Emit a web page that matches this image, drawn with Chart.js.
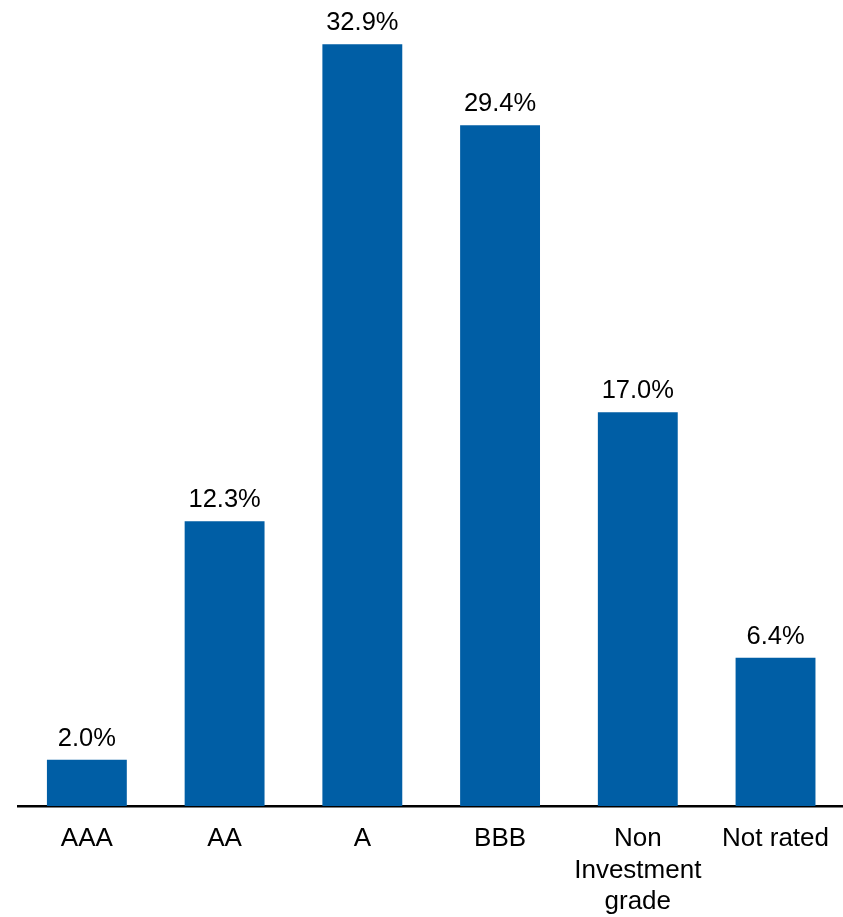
<!DOCTYPE html>
<html>
<head>
<meta charset="utf-8">
<script src="https://cdn.jsdelivr.net/npm/chart.js@4/dist/chart.umd.min.js"></script>
<style>
  html, body { margin: 0; padding: 0; background: #fff; overflow: hidden; }
  #wrap { width: 846px; height: 917px; }
</style>
</head>
<body>
<div id="wrap"><canvas id="c"></canvas></div>
<script>
// Portfolio split by credit rating (% of total)
const categories = ['AAA', 'AA', 'A', 'BBB', ['Non', 'Investment', 'grade'], 'Not rated'];
const shares = [2.0, 12.3, 32.9, 29.4, 17.0, 6.4];
const valueLabels = ['2.0%', '12.3%', '32.9%', '29.4%', '17.0%', '6.4%'];

const FONT = '"Liberation Sans", Arial, sans-serif';
const BAR_BLUE = '#005EA5';

// Writes each bar's percentage just above it
const barValueLabels = {
  id: 'barValueLabels',
  afterDatasetsDraw(chart) {
    const ctx = chart.ctx;
    const meta = chart.getDatasetMeta(0);
    ctx.save();
    ctx.font = '25.5px ' + FONT;
    ctx.fillStyle = '#000';
    ctx.textAlign = 'center';
    ctx.textBaseline = 'alphabetic';
    meta.data.forEach((bar, i) => {
      ctx.fillText(valueLabels[i], bar.x, bar.y - 14);
    });
    ctx.restore();
  }
};

new Chart(document.getElementById('c'), {
  type: 'bar',
  data: {
    labels: categories,
    datasets: [{
      data: shares,
      backgroundColor: BAR_BLUE,
      borderWidth: 0,
      barPercentage: 0.58,
      categoryPercentage: 1.0
    }]
  },
  options: {
    responsive: true,
    maintainAspectRatio: false,
    animation: false,
    layout: { padding: { top: 21, left: 18, right: 0, bottom: 0 } },
    plugins: {
      legend: { display: false },
      tooltip: { enabled: false }
    },
    scales: {
      x: {
        grid: { display: false, drawTicks: false },
        border: { display: true, color: '#000', width: 2.5 },
        ticks: {
          color: '#000',
          font: { family: FONT, size: 26, lineHeight: 1.22 },
          padding: 17,
          maxRotation: 0,
          autoSkip: false
        },
        afterFit(axis) { axis.height = 111; }
      },
      y: {
        display: false,
        min: 0,
        max: 33.9
      }
    }
  },
  plugins: [barValueLabels]
});
</script>
</body>
</html>
